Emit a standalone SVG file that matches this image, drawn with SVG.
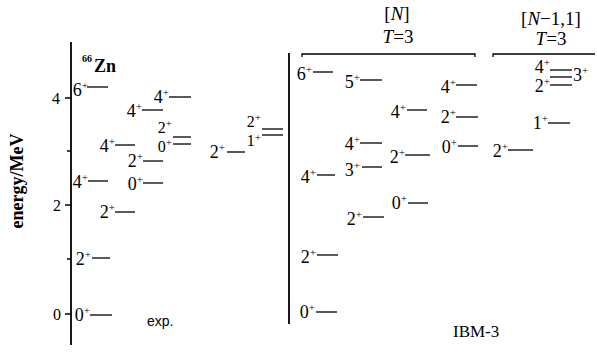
<svg xmlns="http://www.w3.org/2000/svg" width="597" height="359" viewBox="0 0 597 359">
<style>
text{font-family:"Liberation Serif","Times New Roman",serif;fill:#000}
.lb{font-size:18px;text-anchor:end}
.lbs{font-size:18px;text-anchor:start}
.lbm{font-size:16px;text-anchor:end}
.sp{font-size:11px}
.ln{stroke:#000;stroke-width:1.3;fill:none}
.ax{stroke:#000;stroke-width:1.8;fill:none}
.tk{font-size:16px;text-anchor:end}
.hd{font-size:19px;text-anchor:middle}
</style>
<rect width="597" height="359" fill="#fff"/>

<g id="axis">
<line class="ax" x1="71" y1="42" x2="71" y2="345"/>
<path class="ln" d="M65 98H71M67 151H71M65 205H71M67 259H71M65 314H71"/>
<text class="tk" x="60" y="104">4</text>
<text class="tk" x="61" y="211">2</text>
<text class="tk" x="61" y="320">0</text>
<text font-size="18" font-weight="bold" text-anchor="middle" transform="translate(23,181) rotate(-90)">energy/MeV</text>
<text x="82" y="62" font-size="10" font-weight="bold">66</text>
<text x="94" y="72" font-size="18" font-weight="bold">Zn</text>
<text x="147" y="326" font-size="14" style="font-family:'Liberation Sans',Arial,sans-serif">exp.</text>
</g>

<g id="exp-levels">
<g id="e6"><line class="ln" x1="87" y1="87" x2="108" y2="87"/><text class="lb" x="88" y="96">6<tspan class="sp" dy="-7">+</tspan></text></g>
<g id="e4a"><line class="ln" x1="88" y1="181" x2="108" y2="181"/><text class="lb" x="88" y="188">4<tspan class="sp" dy="-7">+</tspan></text></g>
<g id="e2a"><line class="ln" x1="92" y1="258" x2="110" y2="258"/><text class="lb" x="91" y="265">2<tspan class="sp" dy="-7">+</tspan></text></g>
<g id="e0a"><line class="ln" x1="90" y1="315" x2="112" y2="315"/><text class="lb" x="90" y="321">0<tspan class="sp" dy="-7">+</tspan></text></g>
<g id="e4b"><line class="ln" x1="115" y1="145" x2="135" y2="145"/><text class="lb" x="115" y="152">4<tspan class="sp" dy="-7">+</tspan></text></g>
<g id="e2b"><line class="ln" x1="115" y1="212" x2="135" y2="212"/><text class="lb" x="115" y="218">2<tspan class="sp" dy="-7">+</tspan></text></g>
<g id="e4c"><line class="ln" x1="142" y1="110" x2="163" y2="110"/><text class="lb" x="142" y="117">4<tspan class="sp" dy="-7">+</tspan></text></g>
<g id="e2c"><line class="ln" x1="143" y1="161" x2="163" y2="161"/><text class="lb" x="143" y="167">2<tspan class="sp" dy="-7">+</tspan></text></g>
<g id="e0c"><line class="ln" x1="143" y1="183" x2="163" y2="183"/><text class="lb" x="143" y="190">0<tspan class="sp" dy="-7">+</tspan></text></g>
<g id="e4d"><line class="ln" x1="169" y1="97" x2="191" y2="97"/><text class="lb" x="169" y="103">4<tspan class="sp" dy="-7">+</tspan></text></g>
<g id="e20d"><line class="ln" x1="173" y1="137" x2="191" y2="137"/><line class="ln" x1="173" y1="144" x2="191" y2="144"/><text class="lbm" x="172" y="133">2<tspan class="sp" dy="-6">+</tspan></text><text class="lbm" x="172" y="152">0<tspan class="sp" dy="-6">+</tspan></text></g>
<g id="e2e"><line class="ln" x1="227" y1="152" x2="245" y2="152"/><text class="lb" x="225" y="158">2<tspan class="sp" dy="-7">+</tspan></text></g>
<g id="e21e"><line class="ln" x1="262" y1="129" x2="283" y2="129"/><line class="ln" x1="262" y1="135" x2="283" y2="135"/><text class="lbm" x="261" y="127">2<tspan class="sp" dy="-6">+</tspan></text><text class="lbm" x="261" y="146">1<tspan class="sp" dy="-5">+</tspan></text></g>
</g>

<g id="ibm">
<line class="ax" x1="289" y1="53" x2="289" y2="324"/>
<path class="ln" d="M302 57V54H475V57M493 57V54H595"/>
<text class="hd" x="397" y="20">[<tspan font-style="italic">N</tspan>]</text>
<text class="hd" x="398" y="43"><tspan font-style="italic">T</tspan>=3</text>
<text class="hd" x="551" y="25">[<tspan font-style="italic">N</tspan>−1,1]</text>
<text class="hd" x="551" y="45"><tspan font-style="italic">T</tspan>=3</text>
<text x="453" y="337" font-size="17">IBM-3</text>
</g>

<g id="ibm-N">
<g id="a6"><line class="ln" x1="313" y1="72" x2="333" y2="72"/><text class="lb" x="312" y="80">6<tspan class="sp" dy="-7">+</tspan></text></g>
<g id="a4"><line class="ln" x1="317" y1="175" x2="335" y2="175"/><text class="lb" x="316" y="183">4<tspan class="sp" dy="-7">+</tspan></text></g>
<g id="a2"><line class="ln" x1="317" y1="255" x2="338" y2="255"/><text class="lb" x="316" y="263">2<tspan class="sp" dy="-7">+</tspan></text></g>
<g id="a0"><line class="ln" x1="316" y1="312" x2="337" y2="312"/><text class="lb" x="315" y="318">0<tspan class="sp" dy="-7">+</tspan></text></g>
<g id="b5"><line class="ln" x1="360" y1="80" x2="382" y2="80"/><text class="lb" x="360" y="88">5<tspan class="sp" dy="-7">+</tspan></text></g>
<g id="b4"><line class="ln" x1="360" y1="143" x2="382" y2="143"/><text class="lb" x="360" y="150">4<tspan class="sp" dy="-7">+</tspan></text></g>
<g id="b3"><line class="ln" x1="362" y1="167" x2="382" y2="167"/><text class="lb" x="360" y="176">3<tspan class="sp" dy="-7">+</tspan></text></g>
<g id="b2"><line class="ln" x1="363" y1="217" x2="384" y2="217"/><text class="lb" x="362" y="225">2<tspan class="sp" dy="-7">+</tspan></text></g>
<g id="c4"><line class="ln" x1="407" y1="110" x2="427" y2="110"/><text class="lb" x="406" y="118">4<tspan class="sp" dy="-7">+</tspan></text></g>
<g id="c2"><line class="ln" x1="405" y1="155" x2="430" y2="155"/><text class="lb" x="405" y="163">2<tspan class="sp" dy="-7">+</tspan></text></g>
<g id="c0"><line class="ln" x1="408" y1="203" x2="428" y2="203"/><text class="lb" x="407" y="209">0<tspan class="sp" dy="-7">+</tspan></text></g>
<g id="d4"><line class="ln" x1="456" y1="85" x2="477" y2="85"/><text class="lb" x="456" y="93">4<tspan class="sp" dy="-7">+</tspan></text></g>
<g id="d2"><line class="ln" x1="456" y1="117" x2="478" y2="117"/><text class="lb" x="456" y="123">2<tspan class="sp" dy="-7">+</tspan></text></g>
<g id="d0"><line class="ln" x1="458" y1="146" x2="478" y2="146"/><text class="lb" x="457" y="153">0<tspan class="sp" dy="-7">+</tspan></text></g>
</g>

<g id="ibm-N11">
<g id="f2a"><line class="ln" x1="508" y1="150" x2="533" y2="150"/><text class="lb" x="508" y="157">2<tspan class="sp" dy="-7">+</tspan></text></g>
<g id="f1"><line class="ln" x1="548" y1="123" x2="570" y2="123"/><text class="lb" x="548" y="129">1<tspan class="sp" dy="-7">+</tspan></text></g>
<g id="f2b"><line class="ln" x1="550" y1="85" x2="572" y2="85"/><text class="lb" x="550" y="92">2<tspan class="sp" dy="-7">+</tspan></text></g>
<g id="f43"><line class="ln" x1="550" y1="70" x2="572" y2="70"/><line class="ln" x1="550" y1="77" x2="572" y2="77"/><text class="lb" x="550" y="73">4<tspan class="sp" dy="-7">+</tspan></text><text class="lbs" x="573" y="81">3<tspan class="sp" dy="-7">+</tspan></text></g>
</g>
</svg>
